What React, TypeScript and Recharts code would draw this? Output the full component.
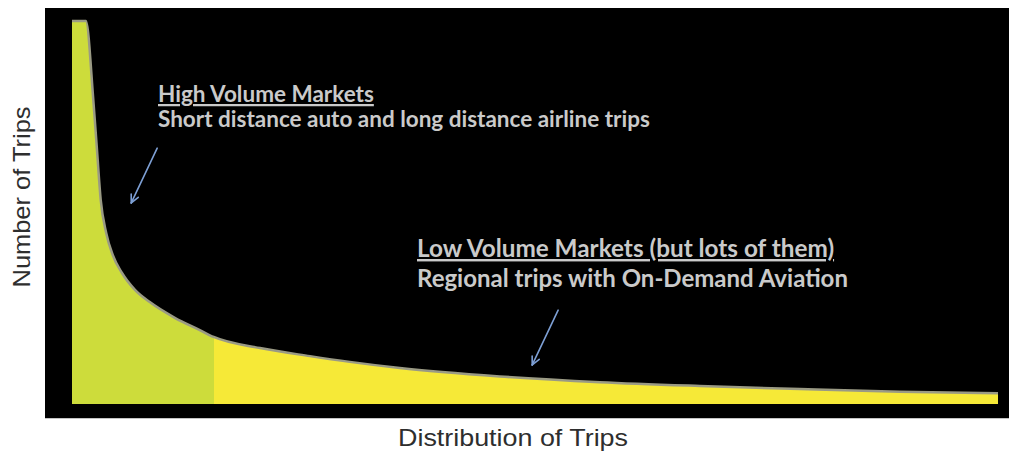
import React from 'react';
import { AreaChart, Area, XAxis, YAxis, ReferenceLine, Customized } from 'recharts';

// share of trip distribution (0-100) vs relative number of trips
const distribution = [0, 1.5, 2.3, 2.7, 3.1, 3.7, 4.4, 5.4, 6.8, 8.4, 11.1, 13.8, 15.3, 20.3, 25.7, 30.0, 35.4, 46.2, 57.0, 67.8, 78.6, 89.4, 100];
const tripCounts = [100, 100, 79.4, 66.3, 53.3, 44.6, 38.9, 34.2, 29.8, 26.6, 22.5, 19.3, 17.5, 14.6, 12.5, 11.0, 9.4, 7.2, 5.7, 4.7, 3.9, 3.2, 2.8];
const highVolumeEnd = 15.3;

const xTitle = 'Distribution of Trips';
const yTitle = 'Number of Trips';
const highTitle = 'High Volume Markets';
const highText = 'Short distance auto and long distance airline trips';
const lowTitle = 'Low Volume Markets (but lots of them)';
const lowText = 'Regional trips with On-Demand Aviation';

// arrows in data coordinates: [from, to]
const highArrow = [{ x: 9.2, y: 66.8 }, { x: 6.4, y: 52.5 }];
const lowArrow = [{ x: 52.5, y: 24.5 }, { x: 49.7, y: 10.2 }];

const data = distribution.map((d, i) => ({ d, trips: tripCounts[i] }));

const W = 1009;
const H = 456;
const annFont = 'Lato, "Open Sans", sans-serif';
const axisFont = '"Liberation Sans", Arial, sans-serif';

const Arrow = (props: any) => {
  const { x1, y1, x2, y2 } = props;
  const ang = Math.atan2(y2 - y1, x2 - x1);
  const len = 9;
  const a1 = ang + Math.PI - 0.45;
  const a2 = ang + Math.PI + 0.45;
  return (
    <g stroke="#7d9fd4" strokeWidth={1.6} fill="none" strokeLinecap="round">
      <line x1={x1} y1={y1} x2={x2} y2={y2} />
      <line x1={x2} y1={y2} x2={x2 + len * Math.cos(a1)} y2={y2 + len * Math.sin(a1)} />
      <line x1={x2} y1={y2} x2={x2 + len * Math.cos(a2)} y2={y2 + len * Math.sin(a2)} />
    </g>
  );
};

const Texts = () => (
  <g>
    <text x={21} y={197} transform="rotate(-90, 21, 197)" textAnchor="middle" dominantBaseline="central"
      fontFamily={axisFont} fontSize={24} fill="#2e2e2e" textLength={181} lengthAdjust="spacingAndGlyphs">{yTitle}</text>
    <text x={513} y={437} textAnchor="middle" dominantBaseline="central"
      fontFamily={axisFont} fontSize={24} fill="#2e2e2e" textLength={230} lengthAdjust="spacingAndGlyphs">{xTitle}</text>
    <g fontFamily={annFont} fontWeight={700} fill="#cacaca">
      <text x={158} y={102} fontSize={22.5} textDecoration="underline">{highTitle}</text>
      <text x={158} y={127} fontSize={22.5}>{highText}</text>
      <text x={417} y={257} fontSize={24.3} textDecoration="underline">{lowTitle}</text>
      <text x={417} y={287} fontSize={24}>{lowText}</text>
    </g>
  </g>
);

export default function App() {
  const split = highVolumeEnd / 100;
  return (
    <div style={{ position: 'absolute', left: 0, top: 0, width: W, height: H, overflow: 'hidden', background: '#fff' }}>
      <div style={{ position: 'absolute', left: 45, top: 8, width: W - 45, height: 410, background: '#000', borderBottom: '1px solid #c4c4c4' }} />
      <div style={{ position: 'absolute', left: 0, top: 0 }}>
        <AreaChart width={W} height={H} data={data} margin={{ top: 21, right: 11, bottom: 52, left: 72 }}>
          <defs>
            <linearGradient id="splitFill" x1="0" y1="0" x2="1" y2="0">
              <stop offset={0} stopColor="#cddc3b" />
              <stop offset={split} stopColor="#cddc3b" />
              <stop offset={split} stopColor="#f6e937" />
              <stop offset={1} stopColor="#f6e937" />
            </linearGradient>
          </defs>
          <XAxis dataKey="d" type="number" domain={[0, 100]} hide />
          <YAxis type="number" domain={[0, 100]} hide />
          <Area type="monotone" dataKey="trips" stroke="#9a9a84" strokeWidth={2.5}
            fill="url(#splitFill)" fillOpacity={1} isAnimationActive={false} />
          <ReferenceLine segment={highArrow} shape={Arrow} ifOverflow="visible" />
          <ReferenceLine segment={lowArrow} shape={Arrow} ifOverflow="visible" />
          <Customized component={Texts} />
        </AreaChart>
      </div>
    </div>
  );
}
